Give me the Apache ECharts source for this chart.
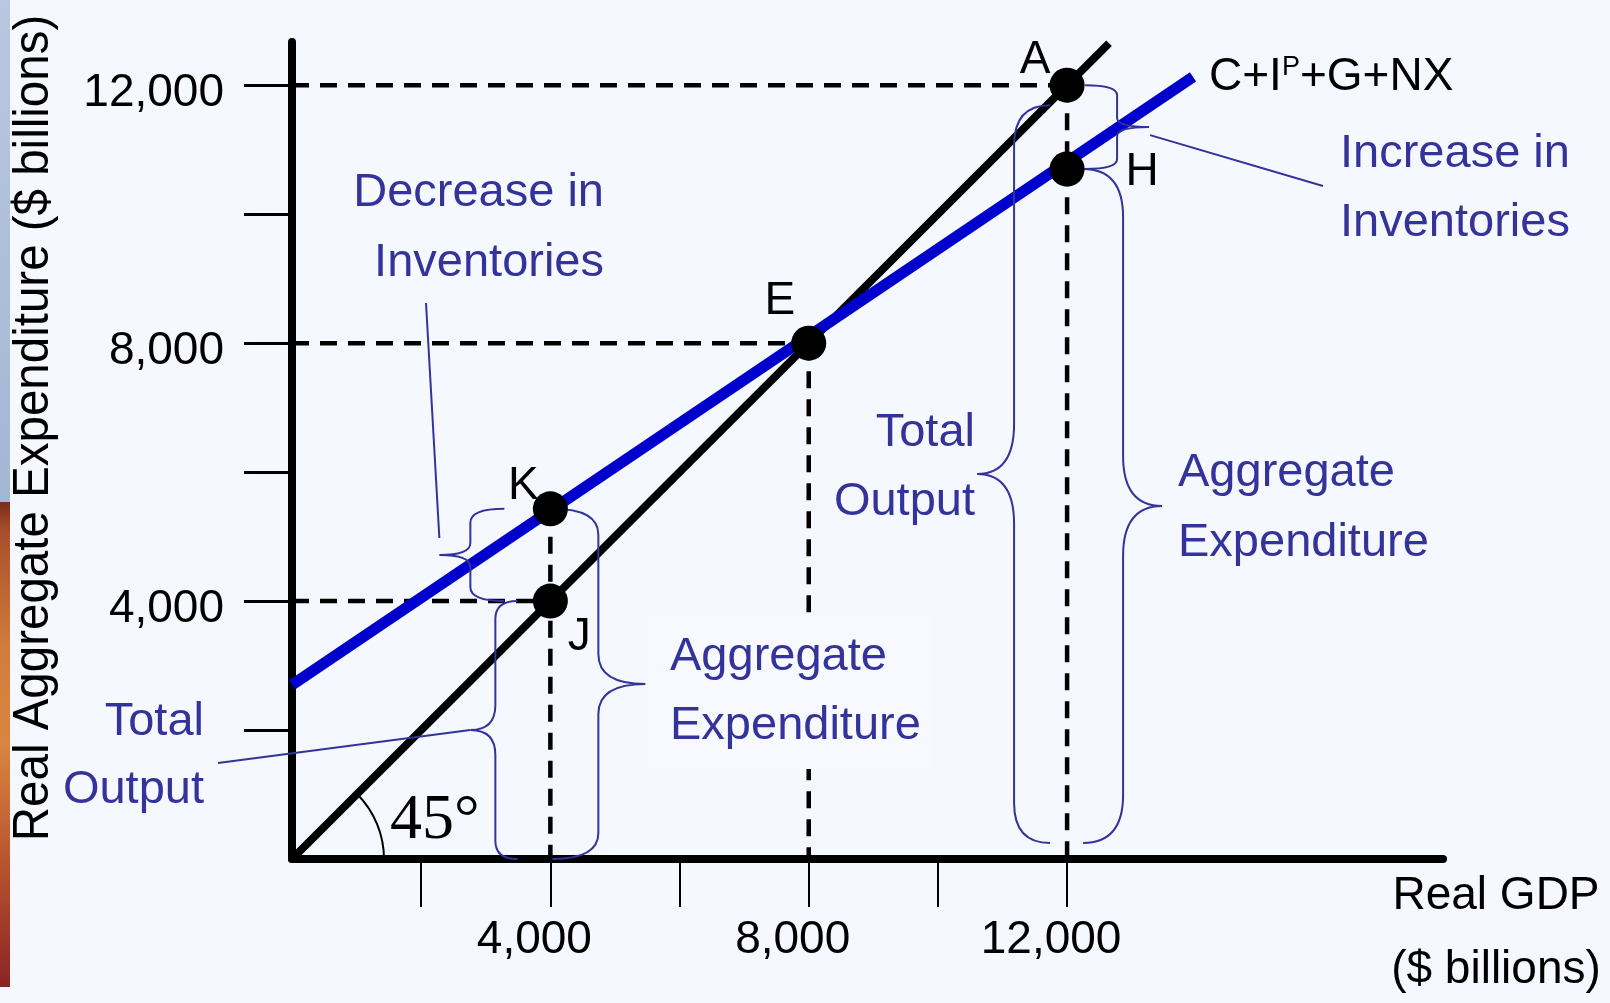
<!DOCTYPE html>
<html><head><meta charset="utf-8">
<script src="https://cdn.jsdelivr.net/npm/echarts@6/dist/echarts.min.js"></script>
<style>html,body{margin:0;padding:0;background:#F5F8FE;} #chart{width:1610px;height:1003px;}</style>
</head><body><div id="chart"></div>
<script>
// ---- data ----
const xTickValues = [2000, 4000, 6000, 8000, 10000, 12000];
const yTickValues = [2000, 4000, 6000, 8000, 10000, 12000];
const xLabelValues = [4000, 8000, 12000];
const yLabelValues = [4000, 8000, 12000];
const line45X = [0, 12650];
const line45Y = [0, 12650];
const aeX = [0, 13950];
const aeY = [2700, 12130];
const pointNames = ['A', 'H', 'E', 'K', 'J'];
const pointX = [12000, 12000, 8000, 4000, 4000];
const pointY = [12000, 10700, 8000, 5430, 4000];
const hGuides = ['A', 'E', 'J'];
const vGuides = ['A', 'E', 'K'];
const braceNames = ['totalOutputJ', 'aggExpK', 'decInv', 'incInv', 'totalOutputA', 'aggExpH'];
const braceX = [4000, 4000, 4000, 12000, 12000, 12000];
const braceFrom = [0, 0, 4000, 10700, 0, 0];
const braceTo = [4000, 5430, 5430, 12000, 12000, 10700];

// ---- styles ----
const FONT = '"Liberation Sans", Arial, sans-serif';
const BLUE_TEXT = '#333399';
const AE_BLUE = '#0000CC';
const labelOffset = {A: [-32, -25], H: [75, 3], E: [-29, -42], K: [-27, -23], J: [29, 36]};
const braceGeom = {
  totalOutputJ: {end: -33, spine: -55, tip: -80, r: 18, rt: 25, insetTop: 0, insetBot: 0},
  aggExpK: {end: 2, spine: 48, tip: 95, r: 26, rt: 30, insetTop: 0, insetBot: 0},
  decInv: {end: -46, spine: -80, tip: -111, r: 14, rt: 12, insetTop: 0, insetBot: 0},
  incInv: {end: 18, spine: 50, tip: 82, r: 10, rt: 9, insetTop: 0, insetBot: 0},
  totalOutputA: {end: -17, spine: -53, tip: -90, r: 40, rt: 50, insetTop: 20, insetBot: 16},
  aggExpH: {end: 16, spine: 56, tip: 95, r: 48, rt: 50, insetTop: 0, insetBot: 16}
};
const leaderGeom = {
  totalOutputJ: {gap: [0, 0], to: [218, 763]},
  decInv: {gap: [0, -17], to: [426, 303]},
  incInv: {gap: [1, 8], to: [1323, 186]}
};

const byName = {};
pointNames.forEach((n, i) => byName[n] = [pointX[i], pointY[i]]);

const dashStyle = {type: [17, 11], width: 4.5, color: '#000'};
const guideSeries = [];
hGuides.forEach(n => guideSeries.push({
  type: 'line', z: 2, silent: true, symbol: 'none', animation: false,
  data: [[0, byName[n][1]], [byName[n][0], byName[n][1]]], lineStyle: dashStyle
}));
vGuides.forEach(n => guideSeries.push({
  type: 'line', z: 2, silent: true, symbol: 'none', animation: false,
  data: [[byName[n][0], byName[n][1]], [byName[n][0], 0]], lineStyle: dashStyle
}));

function braceItem(params, api) {
  const name = braceNames[params.dataIndex];
  const g = braceGeom[name];
  const top = api.coord([api.value(0), api.value(2)]);
  const bot = api.coord([api.value(0), api.value(1)]);
  const x0 = top[0];
  const yT = top[1] + g.insetTop, yB = bot[1] - g.insetBot;
  const ym = (yT + yB) / 2;
  const xe = x0 + g.end, xs = x0 + g.spine, xt = x0 + g.tip;
  const d = `M${xe},${yT} Q${xs},${yT} ${xs},${yT + g.r} L${xs},${ym - g.rt} Q${xs},${ym} ${xt},${ym} ` +
            `Q${xs},${ym} ${xs},${ym + g.rt} L${xs},${yB - g.r} Q${xs},${yB} ${xe},${yB}`;
  const children = [{type: 'path', shape: {pathData: d}, style: {fill: 'none', stroke: BLUE_TEXT, lineWidth: 2}}];
  const ld = leaderGeom[name];
  if (ld) children.push({type: 'line', shape: {x1: xt + ld.gap[0], y1: ym + ld.gap[1], x2: ld.to[0], y2: ld.to[1]},
    style: {stroke: BLUE_TEXT, lineWidth: 2}});
  return {type: 'group', children};
}

const fmt = v => Number(v).toLocaleString('en-US');

const blueText = (text, x, y, align, lh, extra) => ({
  type: 'text', x, y, z: 50,
  style: Object.assign({text, fontSize: 47, fontFamily: FONT, fill: BLUE_TEXT, align, verticalAlign: 'middle', lineHeight: lh}, extra || {})
});

const option = {
  backgroundColor: '#F5F8FE',
  animation: false,
  grid: {left: 292, top: 42, width: 1151, height: 817, containLabel: false, outerBoundsMode: 'none'},
  xAxis: {
    type: 'value', min: 0, max: 17820,
    splitLine: {show: false},
    axisLine: {show: true, onZero: false, lineStyle: {color: '#000', width: 8}},
    axisTick: {show: true, customValues: xTickValues, length: 48, lineStyle: {color: '#000', width: 2}},
    axisLabel: {customValues: xLabelValues, formatter: fmt, fontSize: 46, fontFamily: FONT, color: '#000', margin: 58, padding: [0, 32, 0, 0]}
  },
  yAxis: {
    type: 'value', min: 0, max: 12670,
    splitLine: {show: false},
    axisLine: {show: true, onZero: false, lineStyle: {color: '#000', width: 8}},
    axisTick: {show: true, customValues: yTickValues, length: 48, lineStyle: {color: '#000', width: 3}},
    axisLabel: {customValues: yLabelValues, formatter: fmt, fontSize: 46, fontFamily: FONT, color: '#000', margin: 68,
      verticalAlign: 'top', lineHeight: 16}
  },
  graphic: [
    {type: 'rect', x: 0, y: 0, z: 1, shape: {width: 10, height: 502},
     style: {fill: new echarts.graphic.LinearGradient(0, 0, 0, 1, [{offset: 0, color: '#B9C8E0'}, {offset: 1, color: '#A3B6D4'}])}},
    {type: 'rect', x: 0, y: 502, z: 1, shape: {width: 10, height: 485},
     style: {fill: new echarts.graphic.LinearGradient(0, 0, 0, 1, [
       {offset: 0, color: '#7a2c1e'}, {offset: 0.06, color: '#a84e2c'}, {offset: 0.3, color: '#d27c3c'},
       {offset: 0.5, color: '#d9853f'}, {offset: 0.75, color: '#b8522f'}, {offset: 1, color: '#8a2424'}])}},
    {type: 'text', x: 34, y: 428, rotation: Math.PI / 2, scaleX: 0.95, z: 50,
     style: {text: 'Real Aggregate Expenditure ($ billions)', fontSize: 50, fontFamily: FONT, fill: '#000', align: 'center', verticalAlign: 'middle'}},
    {type: 'text', x: 1496, y: 933, z: 50,
     style: {text: 'Real GDP\n($ billions)', fontSize: 46, fontFamily: FONT, fill: '#000', align: 'center', verticalAlign: 'middle', lineHeight: 74}},
    {type: 'text', x: 390, y: 821, z: 50,
     style: {text: '45°', fontSize: 64, fontFamily: '"Liberation Serif", "Times New Roman", serif', fill: '#000', align: 'left', verticalAlign: 'middle'}},
    blueText('Decrease in\nInventories', 604, 228, 'right', 70),
    blueText('Increase in\nInventories', 1340, 189, 'left', 69),
    blueText('Total\nOutput', 975, 468, 'right', 69),
    blueText('Aggregate\nExpenditure', 1178, 508, 'left', 70),
    blueText('Aggregate\nExpenditure', 648, 692, 'left', 69, {backgroundColor: '#F7F9FE', padding: [8, 12, 8, 22]}),
    blueText('Total\nOutput', 204, 756, 'right', 68)
  ],
  series: guideSeries.concat([
    {
      type: 'line', z: 3, silent: true, symbol: 'none',
      data: line45X.map((x, i) => [x, line45Y[i]]),
      lineStyle: {color: '#000', width: 8, cap: 'butt'}
    },
    {
      type: 'line', z: 4, silent: true, symbol: 'none',
      data: aeX.map((x, i) => [x, aeY[i]]),
      lineStyle: {color: AE_BLUE, width: 11, cap: 'butt'},
      endLabel: {
        show: true, distance: 16, formatter: '{a|C+I}{p|P}{a|+G+NX}',
        rich: {
          a: {fontSize: 46, fontFamily: FONT, color: '#000'},
          p: {fontSize: 27, fontFamily: FONT, color: '#000', verticalAlign: 'top', lineHeight: 26}
        }
      }
    },
    {
      type: 'custom', z: 5, silent: true, clip: false,
      renderItem: braceItem,
      encode: {x: 0, y: [1, 2]},
      data: braceNames.map((n, i) => [braceX[i], braceFrom[i], braceTo[i]])
    },
    {
      type: 'custom', z: 5, silent: true, clip: false,
      renderItem: (params, api) => {
        const c = api.coord([api.value(0), api.value(1)]);
        return {type: 'arc', shape: {cx: c[0], cy: c[1], r: 92, startAngle: -Math.PI / 4, endAngle: 0, clockwise: true},
          style: {stroke: '#000', lineWidth: 2, fill: 'none'}};
      },
      data: [[line45X[0], line45Y[0]]]
    },
    {
      type: 'scatter', z: 6, silent: true, symbol: 'circle', symbolSize: 35,
      itemStyle: {color: '#000', opacity: 1},
      label: {show: true, position: 'inside', formatter: '{b}', color: '#000', fontSize: 46, fontFamily: FONT},
      data: pointNames.map((n, i) => ({name: n, value: [pointX[i], pointY[i]], label: {offset: labelOffset[n]}}))
    }
  ])
};

const chart = echarts.init(document.getElementById('chart'), null, {renderer: 'canvas'});
chart.setOption(option);
</script>
</body></html>
